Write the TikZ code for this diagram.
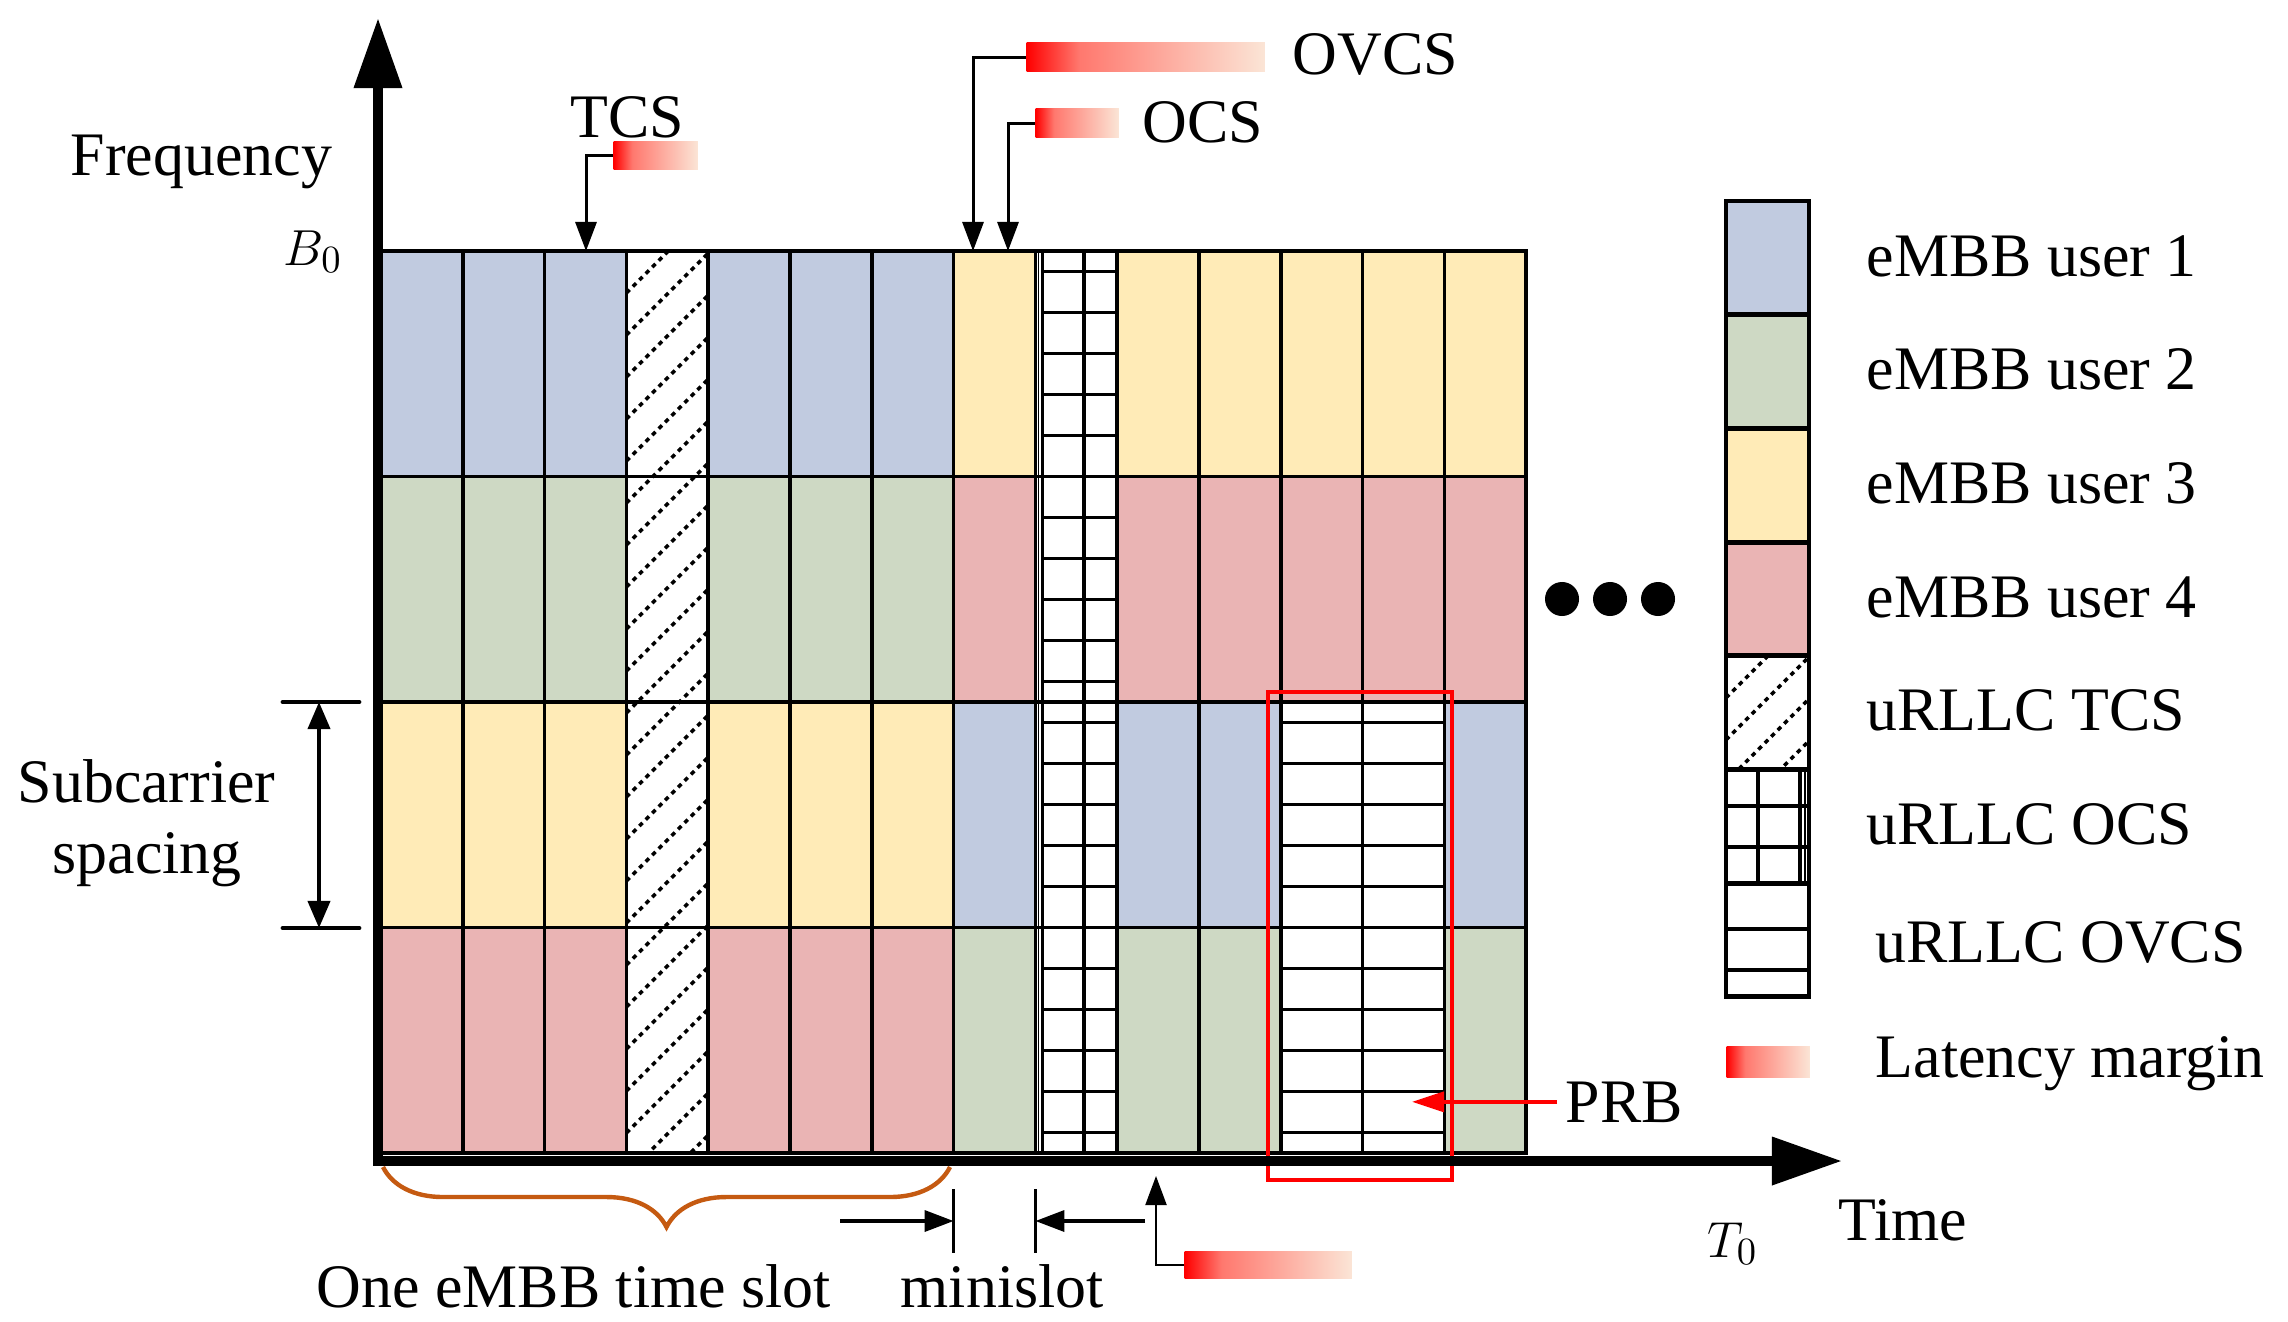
\documentclass[tikz,border=0pt]{standalone}
\usepackage{fontspec}
\setmainfont{Liberation Serif}
\usetikzlibrary{arrows.meta,decorations.pathreplacing}
\definecolor{ublue}{RGB}{193,203,224}
\definecolor{ugreen}{RGB}{206,217,196}
\definecolor{uyellow}{RGB}{255,235,183}
\definecolor{upink}{RGB}{234,180,180}
\definecolor{peach}{RGB}{251,229,214}
\definecolor{salmon}{RGB}{255,120,110}
\definecolor{bracecol}{RGB}{197,90,17}
\pgfdeclarehorizontalshading{latshade}{100bp}{color(0bp)=(red); color(25bp)=(red); color(36bp)=(salmon); color(75bp)=(peach); color(100bp)=(peach)}
\begin{document}
\begin{tikzpicture}[x=0.01cm,y=-0.01cm,
cell/.style={draw,line width=1pt},
legcell/.style={draw,line width=1.4pt},
hatch/.style={line width=1pt,dash pattern=on 1.3pt off 1.3pt},
subline/.style={line width=1pt},
lbl/.style={anchor=base west,inner sep=0pt,font=\fontsize{17.6}{21}\selectfont},
mathlbl/.style={lbl,font=\fontsize{15}{18}\selectfont},
margin/.style={shading=latshade,inner sep=0pt,anchor=north west},
axis/.style={line width=2.85pt,{Triangle[length=0.7cm,width=0.46cm]}-{Triangle[length=0.7cm,width=0.46cm]}},
ptr/.style={line width=0.85pt,-{Triangle[length=0.29cm,width=0.21cm]}}]
\useasboundingbox (0,0) rectangle (2288,1321);

\foreach \i in {0,1,2,4,5,6}
  \foreach \j/\col in {0/ublue,1/ugreen,2/uyellow,3/upink}
    \filldraw[cell,fill=\col] (381+\i*81.8,251+\j*225.5) rectangle ++(81.8,225.5);
\foreach \i in {7,9,10,13}
  \foreach \j/\col in {0/uyellow,1/upink,2/ublue,3/ugreen}
    \filldraw[cell,fill=\col] (381+\i*81.8,251+\j*225.5) rectangle ++(81.8,225.5);
\foreach \i in {11,12}
  \foreach \j/\col in {0/uyellow,1/upink}
    \filldraw[cell,fill=\col] (381+\i*81.8,251+\j*225.5) rectangle ++(81.8,225.5);

\begin{scope}
\clip (626.4,251) rectangle ++(81.8,902);
\foreach \k in {0,...,23} \draw[hatch] (626.4,251+\k*42) -- ++(81.8,-81.8);
\end{scope}
\foreach \j in {0,...,3} \draw[cell] (626.4,251+\j*225.5) rectangle ++(81.8,225.5);

\foreach \k in {1,...,22} \draw[subline] (1042.5,230.5+\k*41) -- (1117.2,230.5+\k*41);
\draw[line width=0.4pt] (1038.5,251) -- ++(0,902);
\draw[subline] (1042.5,251) -- ++(0,902);
\draw[subline] (1084,251) -- ++(0,902);
\foreach \j in {0,...,3} \draw[cell] (1035.4,251+\j*225.5) rectangle ++(81.8,225.5);

\foreach \k in {12,...,22} \draw[subline] (1280.8,230.5+\k*41) -- (1444.4,230.5+\k*41);
\foreach \i in {11,12}
  \foreach \j in {2,3}
    \draw[cell] (381+\i*81.8,251+\j*225.5) rectangle ++(81.8,225.5);
\draw[red,line width=1.4pt] (1268,692) rectangle (1452,1180);

\coordinate (org) at (378,1161);
\coordinate (ftip) at (378,18);
\coordinate (ttip) at (1842,1161);
\draw[axis] (ftip) -- (org) -- (ttip);

\draw (70,175) node[lbl] (freq) {Frequency};
\draw (283,265) node[mathlbl] (b0) {$B_0$};
\draw (1707,1257) node[mathlbl] (t0) {$T_0$};
\draw (1838,1240) node[lbl] (time) {Time};
\draw (17,802) node[lbl] (sub1) {Subcarrier};
\draw (52,873) node[lbl] (sub2) {spacing};
\draw (316,1307) node[lbl] (slot) {One eMBB time slot};
\draw (900,1307) node[lbl] (mini) {minislot};
\draw (570,137) node[lbl] (tcs) {TCS};
\draw (1142,142) node[lbl] (ocs) {OCS};
\draw (1292,74) node[lbl] (ovcs) {OVCS};
\draw (1565,1122) node[lbl] (prb) {PRB};

\node[margin,minimum width=0.84cm,minimum height=0.28cm] (tcsbox) at (613,141) {};
\node[margin,minimum width=0.83cm,minimum height=0.29cm] (ocsbox) at (1035,108) {};
\node[margin,minimum width=2.38cm,minimum height=0.29cm] (ovcsbox) at (1026,42) {};
\node[margin,minimum width=1.67cm,minimum height=0.27cm] (lowbox) at (1184,1251) {};
\coordinate (tcsin) at (586,251);
\coordinate (ocsin) at (1008,251);
\coordinate (ovcsin) at (973,251);
\coordinate (lowin) at (1156,1176);
\draw[ptr] (tcsbox.west) -| (tcsin);
\draw[ptr] (ocsbox.west) -| (ocsin);
\draw[ptr] (ovcsbox.west) -| (ovcsin);
\draw[ptr,line width=0.6pt] (lowbox.west) -| (lowin);

\coordinate (prbtip) at (1412,1102);
\draw[red,line width=1pt,-{Triangle[length=0.32cm,width=0.2cm]}] ([xshift=-0.08cm]prb.west) -- (prbtip |- prb.west);

\coordinate (mL) at (953.6,1221);
\coordinate (mR) at (1035.4,1221);
\coordinate (mLs) at (840,1221);
\coordinate (mRs) at (1145,1221);
\draw[line width=0.7pt] (mL) ++(0,-32) -- ++(0,64);
\draw[line width=0.7pt] (mR) ++(0,-32) -- ++(0,64);
\draw[ptr,line width=1pt] (mLs) -- (mL);
\draw[ptr,line width=1pt] (mRs) -- (mR);

\coordinate (scT) at (319,702);
\coordinate (scB) at (319,928);
\draw[line width=1.4pt,line cap=round] (283,702) -- (359,702);
\draw[line width=1.4pt,line cap=round] (283,928) -- (359,928);
\draw[line width=1.1pt,{Triangle[length=0.27cm,width=0.22cm]}-{Triangle[length=0.27cm,width=0.22cm]}] (scT) -- (scB);

\coordinate (bL) at (383,1167);
\coordinate (bR) at (950,1167);
\draw[bracecol,line width=1.25pt,decorate,decoration={brace,mirror,amplitude=0.6cm}] (bL) -- (bR);

\foreach \x in {1562,1610,1658} \fill (\x,599) circle (0.17cm);

\foreach \k/\col in {0/ublue,1/ugreen,2/uyellow,3/upink}
  \filldraw[legcell,fill=\col] (1726,201+\k*113.7) rectangle ++(83,113.7);
\begin{scope}
\clip (1726,655.8) rectangle ++(83,113.7);
\foreach \k in {0,...,5} \draw[hatch] (1726,655.8+\k*42) -- ++(83,-83);
\end{scope}
\draw[subline] (1726,806) -- ++(83,0);
\draw[subline] (1726,847) -- ++(83,0);
\draw[subline] (1758,769.5) -- ++(0,113.7);
\draw[subline] (1800,769.5) -- ++(0,113.7);
\draw[line width=0.4pt] (1805,769.5) -- ++(0,113.7);
\draw[subline] (1726,929) -- ++(83,0);
\draw[subline] (1726,970) -- ++(83,0);
\foreach \k in {4,5,6} \draw[legcell] (1726,201+\k*113.7) rectangle ++(83,113.7);
\node[margin,minimum width=0.83cm,minimum height=0.31cm] (legbox) at (1726,1046) {};

\foreach \t [count=\k from 0] in {eMBB user 1,eMBB user 2,eMBB user 3,eMBB user 4,uRLLC TCS,uRLLC OCS}
  \draw (1866,276+\k*113.7) node[lbl] (leg\k) {\t};
\draw (1875,962) node[lbl] (leg6) {uRLLC OVCS};
\draw (1875,1077) node[lbl] (leg7) {Latency margin};
\end{tikzpicture}
\end{document}
